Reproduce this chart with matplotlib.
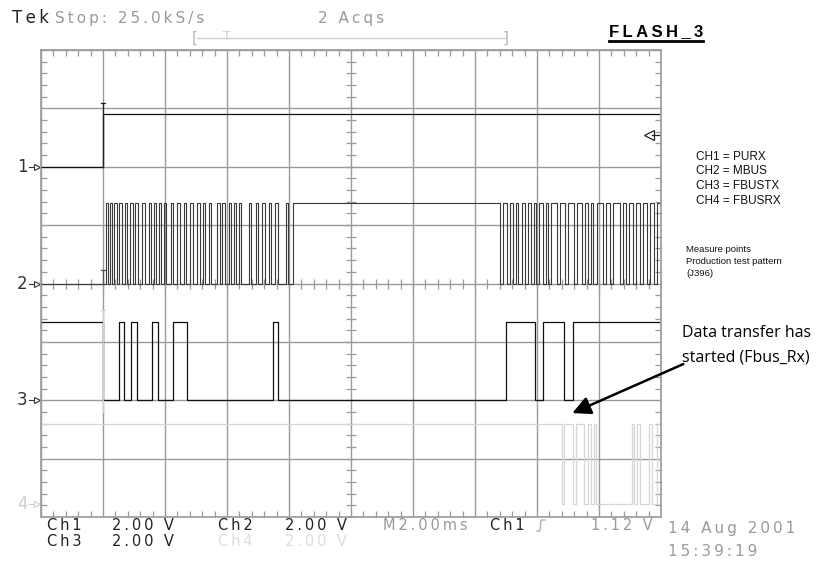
import matplotlib
matplotlib.use("Agg")
import numpy as np
from matplotlib import pyplot as plt

# Screen: 10 horizontal divisions (2 ms/div), 8 vertical divisions (2 V/div)
# vertical scale in divisions, centre line = 0
ground = {"1": 2.0, "2": 0.0, "3": -2.0, "4": -3.78}

# CH1 = PURX : low until the trigger, then high
ch1_edges = [1.0]
ch1_levels = [2.0, 2.9]

# CH2 = MBUS : first burst (short high pulses), long high, then second burst (short low dips)
ch2_low, ch2_high = 0.0, 1.38
ch2_burst1_rise = [1.05, 1.12, 1.18, 1.26, 1.35, 1.44, 1.52, 1.63, 1.74, 1.82, 1.90, 1.98,
                   2.09, 2.20, 2.30, 2.41, 2.52, 2.61, 2.71, 2.84, 2.92, 3.03, 3.11, 3.19,
                   3.35, 3.46, 3.57, 3.67, 3.78, 3.95]
ch2_burst1_fall = [1.08, 1.15, 1.22, 1.30, 1.39, 1.48, 1.56, 1.67, 1.78, 1.86, 1.94, 2.02,
                   2.13, 2.24, 2.34, 2.45, 2.56, 2.65, 2.75, 2.88, 2.96, 3.07, 3.15, 3.23,
                   3.39, 3.50, 3.61, 3.71, 3.82, 3.99]
ch2_hold_start = 4.07
ch2_burst2_fall = [7.40, 7.51, 7.62, 7.70, 7.81, 7.91, 7.99, 8.10, 8.18, 8.32, 8.45, 8.59,
                   8.72, 8.83, 8.91, 9.07, 9.18, 9.34, 9.44, 9.55, 9.66, 9.77, 9.88]
ch2_burst2_rise = [7.45, 7.56, 7.66, 7.75, 7.85, 7.95, 8.04, 8.14, 8.23, 8.37, 8.50, 8.64,
                   8.77, 8.87, 8.96, 9.12, 9.23, 9.39, 9.49, 9.60, 9.71, 9.82, 9.93]

# CH3 = FBUSTX
ch3_low, ch3_high = -2.0, -0.66
ch3_edges = [1.0, 1.26, 1.34, 1.45, 1.55, 1.79, 1.89, 2.13, 2.35, 3.74, 3.82,
             7.50, 7.97, 8.10, 8.44, 8.58]

# CH4 = FBUSRX (starts high, toggles at each edge)
ch4_low, ch4_high = -3.77, -2.40
ch4_edges = [8.40, 8.44, 8.58, 8.63, 8.76, 8.83, 8.87, 8.92, 8.95,
             9.53, 9.57, 9.61, 9.66, 9.80, 9.86, 9.94]

trigger_level = 2.54


def toggle_trace(edges, first, second):
    xs = [0.0] + list(edges) + [10.0]
    ys = [first if i % 2 == 0 else second for i in range(len(edges) + 1)]
    ys.append(ys[-1])
    return xs, ys


def spaced(s):
    # the scope font is letter-spaced
    return "\u2009".join(s)


fig = plt.figure(figsize=(8.26, 5.63), dpi=100)
ax = fig.add_axes([41 / 826, 46 / 563, 620 / 826, 467 / 563])
ax.set_xlim(0, 10)
ax.set_ylim(-4, 4)

grid_col = "#9a9a9a"
ax.set_xticks(np.arange(0, 11, 1))
ax.set_yticks(np.arange(-4, 5, 1))
ax.set_xticks(np.arange(0, 10.01, 0.2), minor=True)
ax.set_yticks(np.arange(-4, 4.01, 0.2), minor=True)
ax.tick_params(which="both", direction="in", top=True, right=True,
               labelbottom=False, labelleft=False, color=grid_col)
ax.tick_params(which="major", length=0)
ax.tick_params(which="minor", length=4, width=0.9)
ax.grid(True, which="major", color=grid_col, lw=1.0)
for s in ax.spines.values():
    s.set_color(grid_col)
    s.set_linewidth(1.2)

# centre cross graticule ticks
minor = np.arange(0, 10.01, 0.2)
ax.plot(minor, np.zeros_like(minor), ls="none", marker="|", ms=7, mew=0.9, color=grid_col)
vminor = np.arange(-4, 4.01, 0.2)
ax.plot(np.full_like(vminor, 5.0), vminor, ls="none", marker="_", ms=7, mew=0.9, color=grid_col)

# traces
x4, y4 = toggle_trace(ch4_edges, ch4_high, ch4_low)
ax.step(x4, y4, where="post", color="#d6d6d6", lw=0.9)

ch2_edges = []
for r, f in zip(ch2_burst1_rise, ch2_burst1_fall):
    ch2_edges += [r, f]
ch2_edges.append(ch2_hold_start)
for f, r in zip(ch2_burst2_fall, ch2_burst2_rise):
    ch2_edges += [f, r]
x2, y2 = toggle_trace(ch2_edges, ch2_low, ch2_high)
ax.step(x2, y2, where="post", color="#3a3a3a", lw=0.8)

x3, y3 = toggle_trace(ch3_edges, ch3_high, ch3_low)
ax.step(x3, y3, where="post", color="#111111", lw=0.9)

x1, y1 = [0.0] + ch1_edges + [10.0], ch1_levels + [ch1_levels[-1]]
ax.step(x1, y1, where="post", color="#111111", lw=0.9)

# trigger "T" markers at the trigger point
ax.plot([1.0, 1.0], [2.0, 3.09], color="#222222", lw=0.9)
ax.plot([0.96, 1.04], [3.09, 3.09], color="#222222", lw=0.9)
ax.plot([1.0, 1.0], [0.0, 0.23], color="#555555", lw=0.9)
ax.plot([0.96, 1.04], [0.23, 0.23], color="#555555", lw=0.9)
ax.plot([1.0, 1.0], [-0.45, -2.2], color="#cfcfcf", lw=0.9)
ax.plot([0.96, 1.04], [-0.45, -0.45], color="#cfcfcf", lw=0.9)

# channel ground markers
for name, lvl in ground.items():
    c = "#d0d0d0" if name == "4" else "#333333"
    ax.text(-0.3, lvl, name, ha="center", va="center", fontsize=12,
            color=c, clip_on=False, family="DejaVu Sans")
    ax.plot([-0.19, -0.08], [lvl, lvl], color=c, lw=0.8, clip_on=False)
    ax.plot([-0.07], [lvl], marker=">", ms=4, mfc="white", mec=c, mew=0.8, clip_on=False)

# trigger level marker
ax.plot([9.8], [trigger_level], marker="<", ms=7, mfc="white", mec="#222222", mew=0.9)
ax.plot([9.86, 9.98], [trigger_level, trigger_level], color="#222222", lw=0.9)

# annotation arrow
ax.annotate("", xy=(8.57, -2.22), xytext=(10.36, -1.38), annotation_clip=False,
            arrowprops=dict(arrowstyle="-|>,head_length=1.1,head_width=0.55",
                            color="black", lw=1.8, shrinkA=0, shrinkB=0))

# overlay in pixel coordinates for the scope texts
ov = fig.add_axes([0, 0, 1, 1], facecolor="none")
ov.set_xlim(0, 826)
ov.set_ylim(563, 0)
ov.axis("off")

scope = dict(family="DejaVu Sans", va="center", ha="left")
ov.text(12, 18, spaced("Tek"), fontsize=12, color="#222222", **scope)
ov.text(55, 18, spaced("Stop: 25.0kS/s"), fontsize=11, color="#9a9a9a", **scope)
ov.text(318, 18, spaced("2 Acqs"), fontsize=11, color="#9a9a9a", **scope)
ov.plot([197, 505], [38, 38], color="#d0d0d0", lw=1)
ov.text(195, 38, "[", fontsize=11, color="#b8b8b8", ha="center", va="center")
ov.text(506, 38, "]", fontsize=11, color="#b8b8b8", ha="center", va="center")
ov.text(227, 37, "T", fontsize=9, color="#d0d0d0", ha="center", va="center")

ov.text(656, 32, spaced("FLASH_3"), fontsize=12, fontweight="bold", color="black",
        family=["Liberation Sans", "DejaVu Sans"], ha="center", va="center")
ov.plot([609, 703], [41, 41], color="black", lw=2)

for i, lab in enumerate(["CH1 = PURX", "CH2 = MBUS", "CH3 = FBUSTX", "CH4 = FBUSRX"]):
    ov.text(696, 157 + i * 14.5, lab, fontsize=8.5, family="Liberation Sans",
            color="#111111", va="center", ha="left")
for i, lab in enumerate(["Measure points", "Production test pattern", "(J396)"]):
    ov.text(686, 250 + i * 12, lab, fontsize=6.8, family="Liberation Sans",
            color="#111111", va="center", ha="left")

ov.text(682, 333, "Data transfer has", fontsize=11.5, family="Open Sans",
        color="black", va="center", ha="left")
ov.text(682, 357, "started (Fbus_Rx)", fontsize=11.5, family="Open Sans",
        color="black", va="center", ha="left")

dark, mid, light = "#222222", "#9a9a9a", "#dddddd"
ov.text(47, 525, spaced("Ch1"), fontsize=10.5, color=dark, **scope)
ov.text(112, 525, spaced("2.00 V"), fontsize=10.5, color=dark, **scope)
ov.text(218, 525, spaced("Ch2"), fontsize=10.5, color=dark, **scope)
ov.text(285, 525, spaced("2.00 V"), fontsize=10.5, color=dark, **scope)
ov.text(47, 542, spaced("Ch3"), fontsize=10.5, color=dark, **scope)
ov.text(112, 542, spaced("2.00 V"), fontsize=10.5, color=dark, **scope)
ov.text(218, 542, spaced("Ch4"), fontsize=10.5, color=light, **scope)
ov.text(285, 542, spaced("2.00 V"), fontsize=10.5, color=light, **scope)
ov.text(383, 525, spaced("M2.00ms"), fontsize=10.5, color=mid, **scope)
ov.text(490, 525, spaced("Ch1"), fontsize=10.5, color=dark, **scope)
ov.plot([537, 540, 541, 545], [531, 531, 520, 520], color="#b0b0b0", lw=1)
ov.text(653, 525, spaced("1.12 V"), fontsize=10.5, color=mid, family="DejaVu Sans",
        va="center", ha="right")
ov.text(668, 528, spaced("14 Aug 2001"), fontsize=11, color=mid, **scope)
ov.text(668, 551, spaced("15:39:19"), fontsize=11, color=mid, **scope)

fig.savefig("out.png", dpi=100, facecolor="white")
